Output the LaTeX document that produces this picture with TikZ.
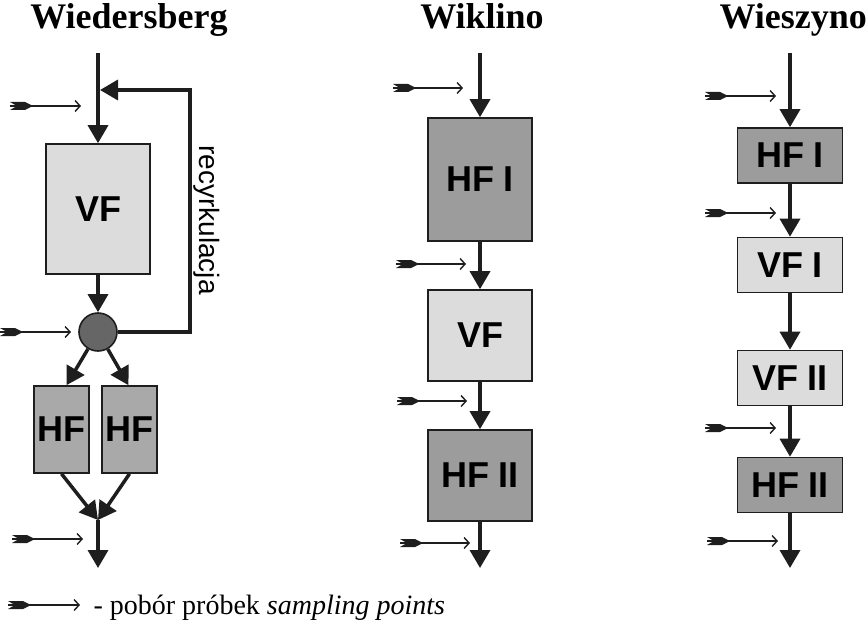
\documentclass[tikz,border=0pt]{standalone}
\usepackage{fontspec}
\setmainfont{Liberation Serif}
\setsansfont{Liberation Sans}
\usetikzlibrary{arrows.meta}

\definecolor{vfgray}{HTML}{DCDCDC}
\definecolor{hfgray}{HTML}{A9A9A9}
\definecolor{hfdark}{HTML}{9C9C9C}
\definecolor{mixgray}{HTML}{666666}
\definecolor{linegray}{HTML}{1E1E1E}

% sampling point: x, y, length
\newcommand{\probe}[3]{%
	\draw[sample] (#1,#2) -- ++(#3,0);
	\fill[linegray] (#1,#2) ++(0,-4) -- ++(15,0) -- ++(8,4) -- ++(-8,4) -- ++(-15,0) -- ++(7,-4) -- cycle;}

\begin{document}
\begin{tikzpicture}[x=1pt,y=-1pt,
	flow/.style={line width=3.5pt,color=linegray,-{Triangle[length=18pt,width=20pt]}},
	sample/.style={line width=1.4pt,color=linegray,-{Straight Barb[length=5pt,width=11pt]}},
	filter/.style={draw=linegray,line width=1.6pt,inner sep=0pt,font=\sffamily\bfseries\fontsize{36}{36}\selectfont},
	vf/.style={filter,fill=vfgray},
	hf/.style={filter,fill=hfgray},
	hfd/.style={filter,fill=hfdark},
	title/.style={font=\bfseries\fontsize{36}{36}\selectfont}]
			\useasboundingbox (0,0) rectangle (866,631);
			
			%WIEDERSBERG
			\node[title,anchor=base] (tw) at (129,29) {Wiedersberg};
			\coordinate (win) at (98,53);
			\coordinate (wrec) at (100,90);
			\coordinate (wcorner) at (190,90);
			\node[vf,minimum width=104pt,minimum height=130pt] (wvf) at (98,209) {VF};
			\node[circle,draw=linegray,line width=1.6pt,fill=mixgray,minimum size=38pt,inner sep=0pt] (wmix) at (98,332) {};
			\node[hf,minimum width=55pt,minimum height=87pt] (whfa) at (61.5,429.5) {HF};
			\node[hf,minimum width=55pt,minimum height=87pt] (whfb) at (129.5,429.5) {HF};
			\coordinate (wjoin) at (98,520);
			\coordinate (wout) at (98,568);
			
			\draw[flow] (win) -- (wvf);
			\draw[flow] (wvf) -- (wmix);
			\draw[flow] (wmix) -| (wcorner) -- (wrec);
			\node[rotate=-90,font=\sffamily\fontsize{28}{28}\selectfont] (wreclabel) at (207,220) {recyrkulacja};
			\draw[flow] (wmix) -- ([xshift=5pt]whfa.north);
			\draw[flow] (wmix) -- ([xshift=-1pt]whfb.north);
			\draw[flow] (whfa.south) -- (wjoin);
			\draw[flow] (whfb.south) -- (wjoin);
			\draw[flow] (wjoin) -- (wout);
			\foreach \x/\y in {10/106,0/332,12/539}
				\probe{\x}{\y}{71};
			
			%WIKLINO
			\node[title,anchor=base] (tk) at (482,29) {Wiklino};
			\coordinate (kin) at (480,53);
			\node[hfd,minimum width=104pt,minimum height=123pt] (khfa) at (480,179.5) {HF I};
			\node[vf,minimum width=104pt,minimum height=91pt] (kvf) at (480,335.5) {VF};
			\node[hfd,minimum width=104pt,minimum height=91pt] (khfb) at (480,475.5) {HF II};
			\coordinate (kout) at (480,568);
			
			\draw[flow] (kin) -- (khfa);
			\draw[flow] (khfa) -- (kvf);
			\draw[flow] (kvf) -- (khfb);
			\draw[flow] (khfb) -- (kout);
			\foreach \x/\y in {393/88,396/264,397/401,400/543}
				\probe{\x}{\y}{70};
			
			%WIESZYNO
			\node[title,anchor=base west] (tz) at (716,29) {Wieszyno};
			\coordinate (zin) at (790,53);
			\node[hfd,minimum width=105pt,minimum height=55pt] (zhfa) at (790,155.5) {HF I};
			\node[vf,minimum width=105pt,minimum height=55pt] (zvfa) at (790,265) {VF I};
			\node[vf,minimum width=105pt,minimum height=55pt] (zvfb) at (790,378) {VF II};
			\node[hfd,minimum width=105pt,minimum height=55pt] (zhfb) at (790,485) {HF II};
			\coordinate (zout) at (790,568);
			
			\draw[flow] (zin) -- (zhfa);
			\draw[flow] (zhfa) -- (zvfa);
			\draw[flow] (zvfa) -- (zvfb);
			\draw[flow] (zvfb) -- (zhfb);
			\draw[flow] (zhfb) -- (zout);
			\foreach \x/\y in {705/96,705/213,705/428,707/541}
				\probe{\x}{\y}{71};
			
			%legend
			\probe{8}{605}{72}
			\node[anchor=base west,font=\fontsize{28}{28}\selectfont] (legend) at (90,614) {- pobór próbek \textit{sampling points}};
\end{tikzpicture}
\end{document}
